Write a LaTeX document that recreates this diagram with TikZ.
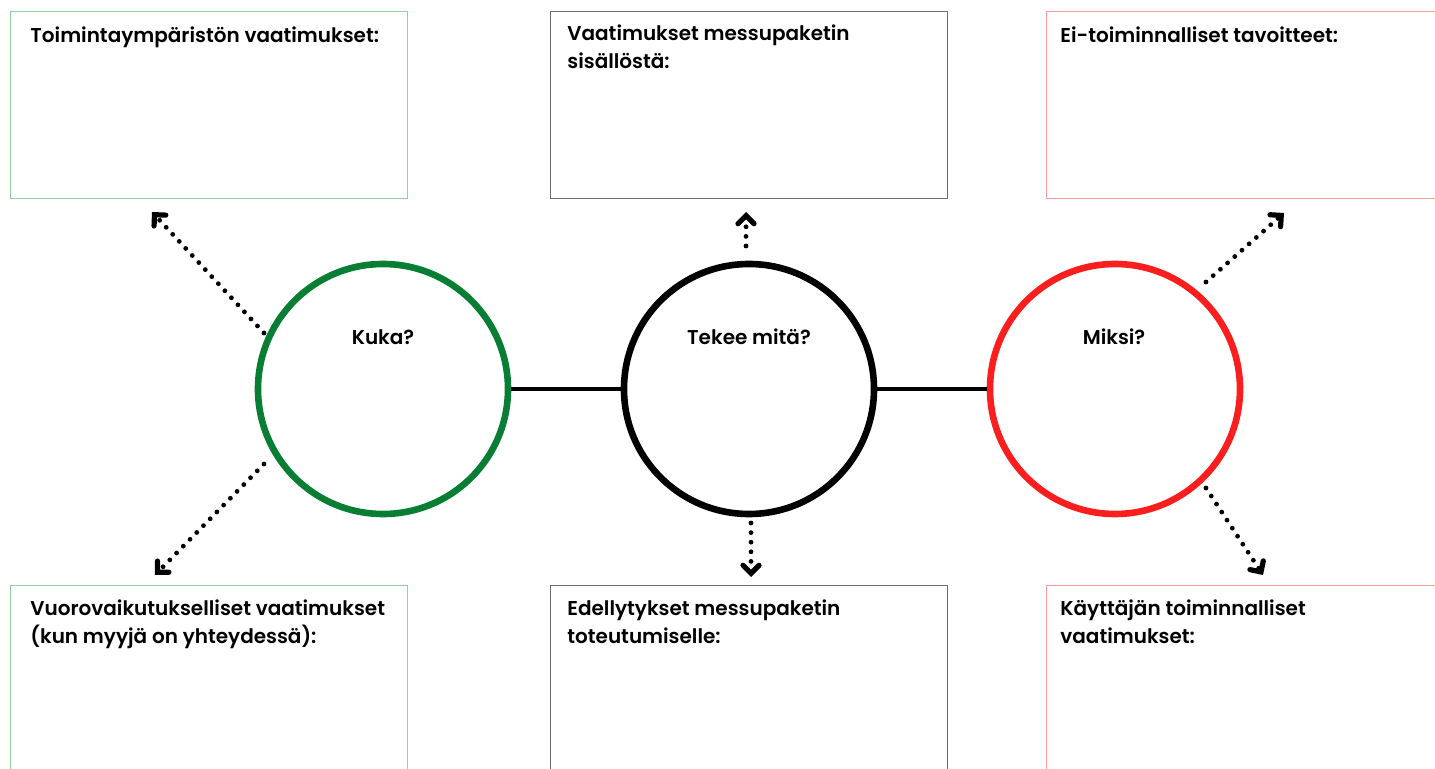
\documentclass[tikz,border=0pt]{standalone}
\usepackage{fontspec}
\setmainfont{Poppins}[BoldFont=Poppins SemiBold]
\usetikzlibrary{arrows.meta,calc}
\definecolor{cgreen}{RGB}{8,125,52}
\definecolor{cred}{RGB}{250,30,30}
\definecolor{bgreen}{RGB}{140,210,165}
\definecolor{bred}{RGB}{255,155,155}
\definecolor{bgray}{RGB}{110,110,110}
\tikzset{
  every node/.style={font=\fontsize{10}{14}\selectfont\bfseries},
  box/.style={draw, line width=0.6pt, rectangle, inner sep=0pt},
  ring/.style={draw, circle, line width=3.3pt, minimum size=125pt, inner sep=0pt},
  boxtext/.style={anchor=base west, align=left, inner sep=0pt},
  link/.style={line width=1.6pt},
  dotarrow/.style={line width=2.4pt, line cap=round, dash pattern=on 0pt off 4.8pt,
    -{Straight Barb[length=4pt, width=8pt, line width=2.6pt, line cap=round]}}
}
\begin{document}
\begin{tikzpicture}[x=0.5pt,y=-0.5pt]
\useasboundingbox (0,0) rectangle (1435,769);
\clip (0,0) rectangle (1435,769);
% boxes
\node[box, draw=bgreen, minimum width=198.5pt, minimum height=93.5pt, anchor=north west] (tl) at (10,11) {};
\node[box, draw=bgray, minimum width=198.5pt, minimum height=93.5pt, anchor=north west] (tm) at (550,11) {};
\node[box, draw=bred, minimum width=220pt, minimum height=93.5pt, anchor=north west] (tr) at (1046,11) {};
\node[box, draw=bgreen, minimum width=198.5pt, minimum height=110pt, anchor=north west] (bl) at (10,585) {};
\node[box, draw=bgray, minimum width=198.5pt, minimum height=110pt, anchor=north west] (bm) at (550,585) {};
\node[box, draw=bred, minimum width=220pt, minimum height=110pt, anchor=north west] (br) at (1046,585) {};
% texts (base = baseline of last line)
\node[boxtext] (tlt) at (30,43) {Toimintaympäristön vaatimukset:};
\node[boxtext] (tmt) at (567,69) {Vaatimukset messupaketin\\sisällöstä:};
\node[boxtext] (trt) at (1060,43) {Ei-toiminnalliset tavoitteet:};
\node[boxtext] (blt) at (30,644) {Vuorovaikutukselliset vaatimukset\\(kun myyjä on yhteydessä):};
\node[boxtext] (bmt) at (567,644) {Edellytykset messupaketin\\toteutumiselle:};
\node[boxtext] (brt) at (1060,644) {Käyttäjän toiminnalliset\\vaatimukset:};
% circles
\node[ring, draw=cgreen] (kuka) at (383,389) {};
\node[ring, draw=black] (tekee) at (749,389) {};
\node[ring, draw=cred] (miksi) at (1115,389) {};
\node (kukat) at (383,337) {Kuka?};
\node (tekeet) at (749,337) {Tekee mitä?};
\node (miksit) at (1114,337) {Miksi?};
% links
\draw[link] (kuka.east) -- (tekee.west);
\draw[link] (tekee.east) -- (miksi.west);
% arrow ends
\coordinate (a1) at (152,212);
\coordinate (a2) at (155,575);
\coordinate (a3) at (746,212);
\coordinate (a4) at (751,577);
\coordinate (a5) at (1284,213);
\coordinate (a6) at (1263,575);
\coordinate (s1) at (264,333);
\coordinate (s2) at (264,464);
\coordinate (s3) at (746,246);
\coordinate (s4) at (751,523);
\coordinate (s5) at (1206,282);
\coordinate (s6) at (1206,488);
\draw[dotarrow] (s1) -- (a1);
\draw[dotarrow] (s2) -- (a2);
\draw[dotarrow] (s3) -- (a3);
\draw[dotarrow] (s4) -- (a4);
\draw[dotarrow] (s5) -- (a5);
\draw[dotarrow] (s6) -- (a6);
\end{tikzpicture}
\end{document}
